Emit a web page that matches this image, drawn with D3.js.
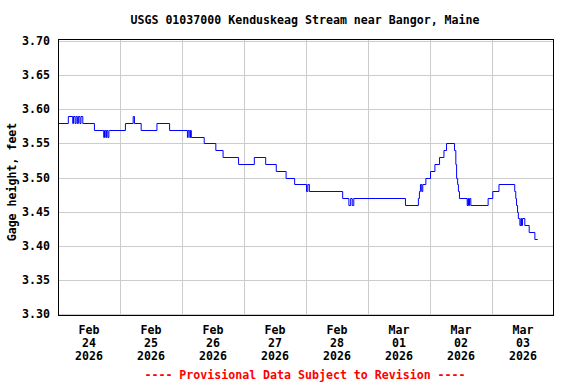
<!DOCTYPE html>
<html>
<head>
<meta charset="utf-8">
<script src="https://cdn.jsdelivr.net/npm/d3@7"></script>
<style>
  body { margin: 0; background: #fff; }
  svg text { font-family: "DejaVu Sans Mono", "Liberation Mono", monospace; font-weight: bold; }
</style>
</head>
<body>
<div id="chart"></div>
<script>
// gage readings, as change points: hours after Feb 24 2026 00:00 and the new value
const hours = [0, 4.0, 5.7, 6.0, 6.6, 7.0, 7.5, 7.9, 8.5, 8.9, 9.6, 14.1,
  17.7, 18.0, 18.5, 18.8, 19.3, 19.7, 20.0, 26.1, 29.1, 29.6, 32.2, 38.3, 43.2,
  50.1, 50.4, 51.0, 51.3, 51.6, 56.6, 61.1, 63.9, 69.9, 76.0, 80.4, 84.5, 88.3,
  91.6, 96.2, 96.7, 97.3, 110.2, 112.6, 113.3, 113.9, 114.5, 134.5, 139.5,
  139.9, 140.3, 140.8, 141.2, 142.4, 144.2, 145.9, 147.7, 149.4, 150.4, 153.5,
  154.0, 154.3, 154.7, 155.0, 155.4, 158.4, 158.7, 158.9, 159.3, 159.8, 166.5,
  168.3, 170.7, 176.8, 177.2, 177.5, 177.9, 178.2, 178.5, 178.8, 179.2, 179.4,
  179.8, 180.7, 182.4, 184.6, 185.7];
const gage = [3.58, 3.59, 3.58, 3.59, 3.58, 3.59, 3.58, 3.59, 3.58, 3.59, 3.58, 3.57,
  3.56, 3.57, 3.56, 3.57, 3.56, 3.57, 3.57, 3.58, 3.59, 3.58, 3.57, 3.58, 3.57,
  3.56, 3.57, 3.56, 3.57, 3.56, 3.55, 3.54, 3.53, 3.52, 3.53, 3.52, 3.51, 3.50,
  3.49, 3.48, 3.49, 3.48, 3.47, 3.46, 3.47, 3.46, 3.47, 3.46, 3.47,
  3.48, 3.49, 3.48, 3.49, 3.50, 3.51, 3.52, 3.53, 3.54, 3.55, 3.54,
  3.52, 3.50, 3.49, 3.48, 3.47, 3.46, 3.47, 3.46, 3.47, 3.46, 3.47,
  3.48, 3.49, 3.48, 3.47, 3.46, 3.45, 3.44, 3.44, 3.43, 3.44, 3.43,
  3.44, 3.43, 3.42, 3.41, 3.41];

const yTicks = [3.30, 3.35, 3.40, 3.45, 3.50, 3.55, 3.60, 3.65, 3.70];
const dayLabels = [["Feb", "24", "2026"], ["Feb", "25", "2026"], ["Feb", "26", "2026"],
  ["Feb", "27", "2026"], ["Feb", "28", "2026"], ["Mar", "01", "2026"],
  ["Mar", "02", "2026"], ["Mar", "03", "2026"]];

const title = "USGS 01037000 Kenduskeag Stream near Bangor, Maine";
const yTitle = "Gage height, feet";
const footer = "---- Provisional Data Subject to Revision ----";

const width = 576, height = 384;
const plotL = 58, plotR = 554, plotT = 39, plotB = 316;
const fs = "11.6px";

const start = new Date(2026, 1, 24);
const days = d3.range(9).map(i => d3.timeDay.offset(start, i));
const data = hours.map((h, i) => ({ t: new Date(start.getTime() + h * 3600e3), v: gage[i] }));

const svg = d3.select("#chart").append("svg")
  .attr("width", width)
  .attr("height", height);

const x = d3.scaleTime()
  .domain([days[0], days[8]])
  .range([plotL, plotR]);

const y = d3.scaleLinear()
  .domain([3.30, 3.70])
  .range([314, 41]);

// grid
svg.append("g")
  .selectAll("line")
  .data(yTicks)
  .enter()
  .append("line")
  .attr("x1", plotL).attr("x2", plotR)
  .attr("y1", d => Math.round(y(d)) + 0.5)
  .attr("y2", d => Math.round(y(d)) + 0.5)
  .attr("stroke", "#cccccc");

svg.append("g")
  .selectAll("line")
  .data(days.slice(1, 8))
  .enter()
  .append("line")
  .attr("x1", d => Math.round(x(d)) + 0.5)
  .attr("x2", d => Math.round(x(d)) + 0.5)
  .attr("y1", plotT).attr("y2", plotB)
  .attr("stroke", "#cccccc");

// the series
const line = d3.line()
  .x(d => x(d.t))
  .y(d => Math.round(y(d.v)) + 0.5)
  .curve(d3.curveStepAfter);

svg.append("path")
  .datum(data)
  .attr("d", line)
  .attr("fill", "none")
  .attr("stroke", "#0000ff")
  .attr("stroke-width", 1);

// frame
svg.append("rect")
  .attr("x", plotL + 0.5).attr("y", plotT + 0.5)
  .attr("width", plotR - plotL - 1).attr("height", plotB - plotT - 1)
  .attr("fill", "none")
  .attr("stroke", "#000")
  .attr("stroke-width", 1);

// y tick labels
svg.append("g")
  .selectAll("text")
  .data(yTicks)
  .enter()
  .append("text")
  .attr("x", 50)
  .attr("y", d => y(d))
  .attr("dy", "0.35em")
  .attr("text-anchor", "end")
  .style("font-size", fs)
  .text(d => d.toFixed(2));

// x labels, centered on each day
const xl = svg.append("g")
  .selectAll("text")
  .data(dayLabels)
  .enter()
  .append("text")
  .attr("text-anchor", "middle")
  .style("font-size", fs);

xl.each(function (d, i) {
  const cx = x(d3.timeHour.offset(days[i], 12));
  d3.select(this).selectAll("tspan")
    .data(d)
    .enter()
    .append("tspan")
    .attr("x", cx)
    .attr("y", (s, j) => 334 + j * 13)
    .text(s => s);
});

svg.append("text")
  .attr("x", 305).attr("y", 24)
  .attr("text-anchor", "middle")
  .style("font-size", fs)
  .text(title);

svg.append("text")
  .attr("transform", "translate(16,182) rotate(-90)")
  .attr("text-anchor", "middle")
  .style("font-size", fs)
  .text(yTitle);

svg.append("text")
  .attr("x", 305).attr("y", 379)
  .attr("text-anchor", "middle")
  .attr("fill", "#ff0000")
  .style("font-size", fs)
  .text(footer);
</script>
</body>
</html>
